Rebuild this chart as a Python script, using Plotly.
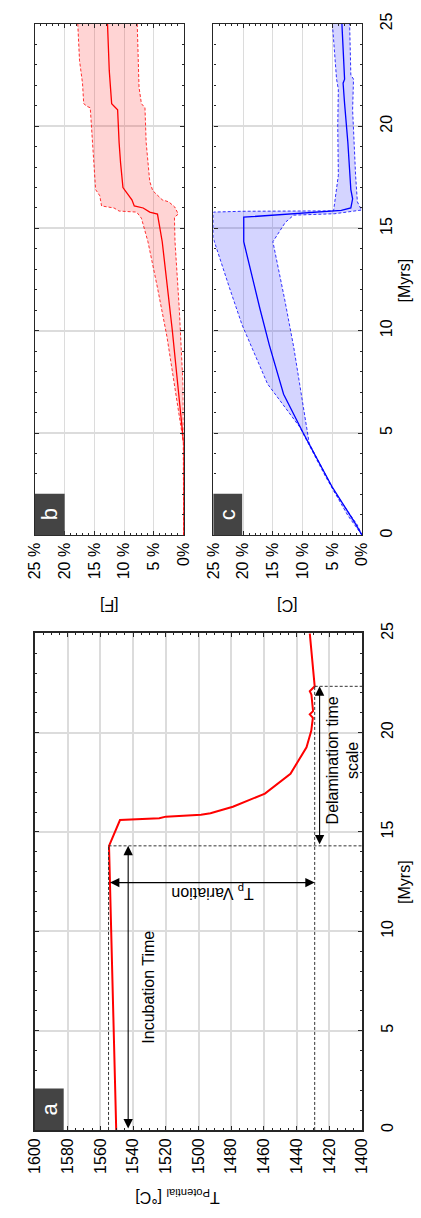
import plotly.graph_objects as go

W, H = 421, 1218
FONT = "Liberation Sans, Arial, Helvetica, sans-serif"

# ---------------- data ----------------
# Panel a: potential temperature vs time
t_a = [0, 10.5, 14.3, 15.6, 15.69, 15.77, 15.87, 15.94, 16.27, 16.93, 17.93, 19.26, 20.09,
       20.75, 20.92, 21.08, 21.91, 22.08, 22.33, 25]
T_a = [1550.3, 1553.7, 1554.7, 1548, 1524, 1520, 1498.5, 1492.7, 1479, 1459.4, 1443.8, 1434,
       1431.1, 1430.1, 1432, 1430, 1431, 1432, 1429, 1432]

incubation_end = 14.3
delam_end = 22.33
tp_max = 1555
tp_min = 1429
arrow_incub_T = 1543
arrow_tp_t = 12.45
arrow_delam_T = 1426

# Panel b: [F] (mean, upper, lower)
t_b_mean = [0, 4.5, 10, 14.35, 15.7, 15.8, 16.0, 16.1, 16.4, 16.7, 17.0, 18.2, 19.2, 20.8, 20.96,
            21.1, 22.7, 25]
f_mean = [0, 0, 1.9, 3.6, 4.4, 5.7, 6.8, 8.3, 8.7, 9.5, 10.2, 10.6, 10.85, 11.1, 11.7, 12.1, 12.5, 12.8]
t_b_hi = [0, 4.5, 5.2, 9.7, 12.1, 14.35, 15.5, 15.8, 15.85, 16.0, 16.1, 16.6, 16.9, 17.9, 19.2,
          20.9, 20.96, 21.1, 22.1, 23.2, 25]
f_hi = [0, 0, 0.4, 2.8, 4.4, 6.0, 7.1, 7.9, 10.85, 11.7, 13.8, 14.1, 14.8, 15.0, 15.3, 15.7, 16.2,
        16.8, 17.0, 17.5, 17.8]
t_b_lo = [0, 5, 7.3, 11.1, 14.35, 15.55, 15.7, 16.05, 16.3, 16.4, 16.85, 17.3, 19.2, 20.9, 21.1,
          21.9, 25]
f_lo = [0, 0, 0.1, 0.74, 1.45, 1.55, 0.9, 1.5, 2.5, 3.6, 5.2, 5.7, 6.3, 6.5, 7.1, 7.5, 7.8]

# Panel c: [C] (mean, upper, lower)
t_c_mean = [0, 0.65, 2.4, 5.0, 6.9, 9.3, 11.1, 14.35, 15.55, 15.67, 15.77, 15.88, 16.0, 16.45,
            16.9, 19.2, 21.1, 22.1, 22.3, 25]
c_mean = [0, 1.3, 5.1, 9.9, 13.2, 15.6, 17.2, 19.9, 19.9, 14.2, 9.4, 3.5, 1.9, 1.6, 1.9, 2.4,
          2.95, 3.2, 2.95, 3.4]
t_c_hi = [0, 0.97, 2.9, 5.3, 7.4, 9.5, 10.3, 12.1, 14.5, 15.8, 15.84, 15.86, 16.3, 17.6, 20.0,
          21.8, 22.3, 25]
c_hi = [0, 2.4, 6.2, 10.5, 15.9, 19.1, 20.2, 22.3, 25, 25, 20.2, 4.8, 4.6, 4.0, 4.1, 4.0, 4.3, 5.0]
t_c_lo = [0, 0.5, 2.1, 4.5, 9.2, 11.5, 14.35, 15.3, 15.65, 15.72, 15.9, 16.0, 16.3, 17.6, 20.8,
          22.3, 22.5, 25]
c_lo = [0, 0.8, 4.6, 8.9, 11.5, 13.0, 15.0, 12.9, 11.5, 4.6, 0.1, 0.3, 0.8, 1.1, 1.6, 1.45, 1.9, 2.1]

time_ticks = [0, 5, 10, 15, 20, 25]
temp_ticks = list(range(1400, 1601, 20))
pct_ticks = [0, 5, 10, 15, 20, 25]
pct_labels = ["0%", "5 %", "10 %", "15 %", "20 %", "25 %"]

# ---------------- figure ----------------
fig = go.Figure()

RED = "#ff0000"
BLUE = "#0000ff"
BOUND_DASH = "3px,2px"

# panel a
fig.add_trace(go.Scatter(x=T_a, y=t_a, mode="lines", line=dict(color=RED, width=2),
                         xaxis="x", yaxis="y", showlegend=False))

# panel b
fig.add_trace(go.Scatter(x=f_hi + f_lo[::-1], y=t_b_hi + t_b_lo[::-1], fill="toself",
                         fillcolor="rgba(255,0,0,0.17)", line=dict(width=0), mode="lines",
                         xaxis="x2", yaxis="y2", showlegend=False))
for fx, ty in [(f_hi, t_b_hi), (f_lo, t_b_lo)]:
    fig.add_trace(go.Scatter(x=fx, y=ty, mode="lines", line=dict(color=RED, width=0.8, dash=BOUND_DASH),
                             xaxis="x2", yaxis="y2", showlegend=False))
fig.add_trace(go.Scatter(x=f_mean, y=t_b_mean, mode="lines", line=dict(color=RED, width=1.3),
                         xaxis="x2", yaxis="y2", showlegend=False))

# panel c
fig.add_trace(go.Scatter(x=c_hi + c_lo[::-1], y=t_c_hi + t_c_lo[::-1], fill="toself",
                         fillcolor="rgba(0,0,255,0.17)", line=dict(width=0), mode="lines",
                         xaxis="x3", yaxis="y3", showlegend=False))
for cx, ty in [(c_hi, t_c_hi), (c_lo, t_c_lo)]:
    fig.add_trace(go.Scatter(x=cx, y=ty, mode="lines", line=dict(color=BLUE, width=0.8, dash=BOUND_DASH),
                             xaxis="x3", yaxis="y3", showlegend=False))
fig.add_trace(go.Scatter(x=c_mean, y=t_c_mean, mode="lines", line=dict(color=BLUE, width=1.3),
                         xaxis="x3", yaxis="y3", showlegend=False))

AX = "#262626"
GRID = "#dcdcdc"


def xa(domain, rng, tickvals, ticktext=None, minor_dtick=1, lw=1.3, gw=1, show_labels=True):
    d = dict(domain=domain, range=rng, tickmode="array", tickvals=tickvals,
             showline=True, linecolor=AX, linewidth=lw, mirror="ticks",
             ticks="inside", ticklen=4, tickcolor=AX, tickwidth=1,
             showgrid=True, gridcolor=GRID, gridwidth=gw, zeroline=False,
             tickangle=-90, tickfont=dict(family=FONT, size=16, color="#000"),
             showticklabels=show_labels,
             minor=dict(dtick=minor_dtick, ticks="inside", ticklen=2, tickcolor=AX, showgrid=False))
    if ticktext is not None:
        d["ticktext"] = ticktext
    return d


L = dict(width=W, height=H, margin=dict(l=0, r=0, t=0, b=0), plot_bgcolor="white",
         paper_bgcolor="white", font=dict(family=FONT, size=16, color="#000"))

xA = [27 / W, 368 / W]
yA = [1 - 1131 / H, 1 - 629 / H]
xB = [27 / W, 182 / W]
xC = [213 / W, 368 / W]
yBC = [1 - 530 / H, 1 - 13 / H]

L["xaxis"] = xa(xA, [1600, 1400], temp_ticks, minor_dtick=5, lw=2, gw=1.6)
L["xaxis"]["anchor"] = "y"
L["yaxis"] = xa(yA, [0, 25], time_ticks, minor_dtick=1, lw=2, gw=1.6)
L["yaxis"].update(anchor="x", side="right", ticklabelstandoff=10)

L["xaxis2"] = xa(xB, [25, 0], pct_ticks, pct_labels, minor_dtick=1, gw=1)
L["xaxis2"]["anchor"] = "y2"
L["yaxis2"] = xa(yBC, [0, 25], time_ticks, minor_dtick=1, gw=2, show_labels=False)
L["yaxis2"].update(anchor="x2", side="right")

L["xaxis3"] = xa(xC, [25, 0], pct_ticks, pct_labels, minor_dtick=1, gw=1)
L["xaxis3"]["anchor"] = "y3"
L["yaxis3"] = xa(yBC, [0, 25], time_ticks, minor_dtick=1, gw=2)
L["yaxis3"].update(anchor="x3", side="right", ticklabelstandoff=10)

fig.update_layout(**L)

# dashed guide lines in panel a
dash_line = dict(color="#333", width=1, dash="3px,2px")
fig.add_shape(type="line", xref="x", yref="y", x0=tp_max, x1=tp_max, y0=0, y1=incubation_end, line=dash_line)
fig.add_shape(type="line", xref="x", yref="y", x0=tp_max, x1=1400, y0=incubation_end, y1=incubation_end, line=dash_line)
fig.add_shape(type="line", xref="x", yref="y", x0=tp_min, x1=tp_min, y0=0, y1=delam_end, line=dash_line)
fig.add_shape(type="line", xref="x", yref="y", x0=tp_min, x1=1400, y0=delam_end, y1=delam_end, line=dash_line)

# arrows
arrow_kw = dict(showarrow=True, arrowhead=2, arrowside="end+start", arrowsize=1.7, arrowwidth=1.1,
                arrowcolor="#000", text="", axref="x", ayref="y", xref="x", yref="y")
fig.add_annotation(x=arrow_incub_T, y=incubation_end, ax=arrow_incub_T, ay=0, **arrow_kw)
fig.add_annotation(x=tp_min, y=arrow_tp_t, ax=tp_max, ay=arrow_tp_t, **arrow_kw)
fig.add_annotation(x=arrow_delam_T, y=delam_end, ax=arrow_delam_T, ay=incubation_end, **arrow_kw)

txt = dict(showarrow=False, xanchor="center", yanchor="middle",
           font=dict(family=FONT, size=16, color="#000"))
fig.add_annotation(x=1530.4, y=7.2, xref="x", yref="y", text="Incubation Time", textangle=-90, **txt)
fig.add_annotation(x=1491.5, y=11.95, xref="x", yref="y", text="T<sub>p</sub> Variation", textangle=180, **txt)
fig.add_annotation(x=1411.7, y=18.6, xref="x", yref="y", text="Delamination time<br>scale", textangle=-90, **txt)

# axis titles
fig.add_annotation(x=412 / W, y=1 - 880 / H, xref="paper", yref="paper", text="[Myrs]", textangle=-90, **txt)
fig.add_annotation(x=412 / W, y=1 - 272 / H, xref="paper", yref="paper", text="[Myrs]", textangle=-90, **txt)
fig.add_annotation(x=104 / W, y=1 - 601 / H, xref="paper", yref="paper", text="[F]", textangle=180, **txt)
fig.add_annotation(x=290 / W, y=1 - 601 / H, xref="paper", yref="paper", text="[C]", textangle=180, **txt)
fig.add_annotation(x=175 / W, y=1 - 1199 / H, xref="paper", yref="paper",
                   text="T<sub>Potential</sub> [°C]", textangle=180, **txt)

# panel letters
for xr, yr, w, h, letter in [("x", "y", 30 / 341, 42 / 502, "a"),
                             ("x2", "y2", 31 / 155, 42 / 517, "b"),
                             ("x3", "y3", 30 / 155, 42 / 517, "c")]:
    fig.add_shape(type="rect", xref=f"{xr} domain", yref=f"{yr} domain", x0=0, x1=w, y0=0, y1=h,
                  fillcolor="#444444", line=dict(width=0), layer="above")
    fig.add_annotation(x=w / 2, y=h / 2, xref=f"{xr} domain", yref=f"{yr} domain", text=letter,
                       textangle=-90, showarrow=False, xanchor="center", yanchor="middle",
                       font=dict(family=FONT, size=22, color="white"))

fig.write_html("out.html")
